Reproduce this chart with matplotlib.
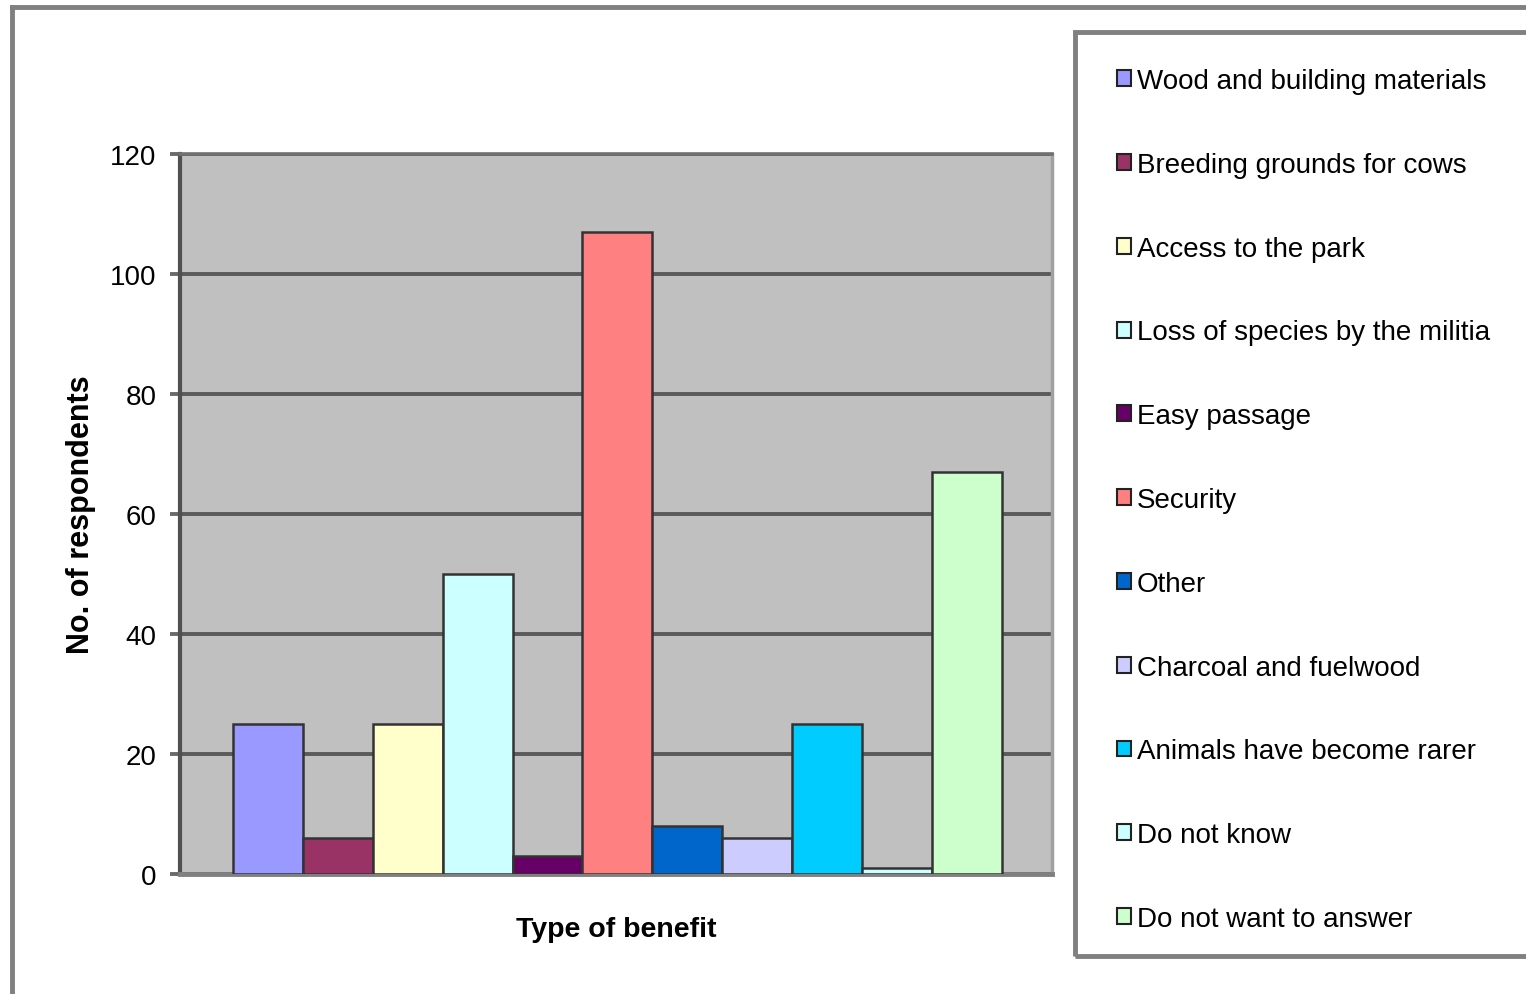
import matplotlib.pyplot as plt
from matplotlib.patches import Rectangle
from matplotlib.lines import Line2D

plt.rcParams['font.family'] = ['Liberation Sans', 'DejaVu Sans']

categories = ["Wood and building materials", "Breeding grounds for cows",
              "Access to the park", "Loss of species by the militia",
              "Easy passage", "Security", "Other", "Charcoal and fuelwood",
              "Animals have become rarer", "Do not know", "Do not want to answer"]
respondents = [25, 6, 25, 50, 3, 107, 8, 6, 25, 1, 67]
colors = ["#9999FF", "#993366", "#FFFFCC", "#CCFFFF", "#660066", "#FF8080",
          "#0066CC", "#CCCCFF", "#00CCFF", "#CCFFFF", "#CCFFCC"]
yticks = [0, 20, 40, 60, 80, 100, 120]

W, H = 1526, 995
fig = plt.figure(figsize=(W / 100, H / 100), dpi=100)

# outer chart-area frame (only top and left visible)
fig.add_artist(Line2D([12 / W, 12 / W], [0, 1 - 8 / H], color="#808080", lw=3.5))
fig.add_artist(Line2D([12 / W, 1], [1 - 8 / H, 1 - 8 / H], color="#808080", lw=3.5))

ax = fig.add_axes([180 / W, 120 / H, 872 / W, 720 / H])
ax.set_facecolor("#C0C0C0")
ax.bar(range(len(respondents)), respondents, width=1.0, align="edge",
       color=colors, edgecolor="#333333", linewidth=1.8, zorder=3)
ax.set_xlim(-0.76, 11.72)
ax.set_ylim(0, 120)
ax.set_yticks(yticks)
ax.set_xticks([])
ax.yaxis.grid(True, color="#5a5a5a", lw=2.8, zorder=1)
ax.tick_params(axis="y", length=7, width=2.8, color="#6a6a6a", labelsize=20, pad=10)
ax.spines["left"].set(color="#505050", lw=3)
ax.spines["bottom"].set(color="#808080", lw=3.5)
ax.spines["top"].set(color="#707070", lw=2.6)
ax.spines["right"].set(color="#a0a0a0", lw=2.5)
ax.set_ylabel("No. of respondents", fontsize=22, fontweight="bold", labelpad=10)
ax.set_xlabel("Type of benefit", fontsize=20.5, fontweight="bold", labelpad=30)

# legend frame, running off the right edge
fig.add_artist(Rectangle((1075 / W, 1 - 957 / H), 0.5, (957 - 33) / H,
                         transform=fig.transFigure, fill=False,
                         edgecolor="#808080", lw=3.5))
handles = [Rectangle((0, 0), 1, 1, facecolor=c, edgecolor="#222222", lw=1.5)
           for c in colors]
fig.legend(handles, categories, loc="upper left",
           bbox_to_anchor=(1106 / W, 1 - 58 / H), frameon=False,
           fontsize=20, handlelength=0.5, handleheight=0.5,
           handletextpad=0.2, labelspacing=2.08, borderaxespad=0)

fig.savefig("out.png", dpi=100)
